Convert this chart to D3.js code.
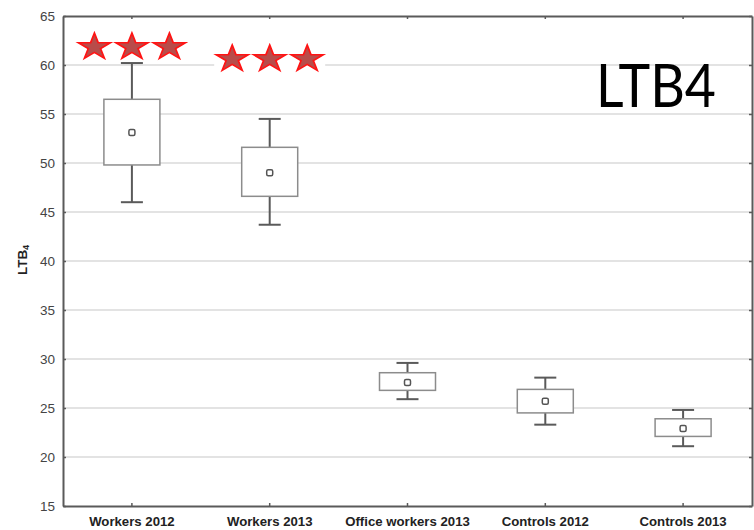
<!DOCTYPE html>
<html>
<head>
<meta charset="utf-8">
<script src="https://cdn.jsdelivr.net/npm/d3@7"></script>
<style>
  html, body { margin: 0; padding: 0; background: #fff; }
  svg { display: block; }
</style>
</head>
<body>
<svg id="chart" width="754" height="530"></svg>
<script>
// Groups and box-plot summary values (LTB4)
const categories = ["Workers 2012", "Workers 2013", "Office workers 2013", "Controls 2012", "Controls 2013"];
const whiskerLow  = [46.0, 43.7, 25.9, 23.3, 21.1];
const boxLow      = [49.8, 46.6, 26.8, 24.5, 22.1];
const means       = [53.1, 49.0, 27.6, 25.7, 22.9];
const boxHigh     = [56.5, 51.6, 28.6, 26.9, 23.9];
const whiskerHigh = [60.2, 54.5, 29.6, 28.1, 24.8];
const yTicks      = [15, 20, 25, 30, 35, 40, 45, 50, 55, 60, 65];
// Significance stars shown above each group
const starCounts  = [3, 3, 0, 0, 0];

const svg = d3.select("#chart");
const plotL = 63, plotR = 752, plotT = 16, plotB = 506;

const x = d3.scaleBand().domain(categories).range([plotL, plotR]);
const y = d3.scaleLinear().domain([15, 65]).range([plotB, plotT]);

// horizontal grid lines
svg.append("g").selectAll("line")
  .data(yTicks.filter(v => v > 15 && v < 65))
  .join("line")
  .attr("x1", plotL).attr("x2", plotR)
  .attr("y1", d => y(d)).attr("y2", d => y(d))
  .attr("stroke", "#e3e3e3").attr("stroke-width", 2);

// frame axes
const axisColor = "#5a5a5a";
const axL = svg.append("g").attr("transform", `translate(${plotL},0)`)
  .call(d3.axisLeft(y).tickValues(yTicks).tickSizeInner(-3).tickSizeOuter(0).tickPadding(8));
const axR = svg.append("g").attr("transform", `translate(${plotR},0)`)
  .call(d3.axisRight(y).tickValues(yTicks).tickSizeInner(-3).tickSizeOuter(0).tickFormat(""));
const axB = svg.append("g").attr("transform", `translate(0,${plotB})`)
  .call(d3.axisBottom(x).tickSizeInner(-3).tickSizeOuter(0).tickPadding(11));
const axT = svg.append("g").attr("transform", `translate(0,${plotT})`)
  .call(d3.axisTop(x).tickSizeInner(-3).tickSizeOuter(0).tickFormat(""));

[axL, axR, axB, axT].forEach(a => {
  a.select(".domain").attr("stroke", axisColor).attr("stroke-width", 2);
  a.selectAll(".tick line").attr("stroke", axisColor).attr("stroke-width", 1.5);
});
axL.selectAll("text")
  .attr("font-family", "Liberation Sans, Arial, sans-serif")
  .attr("font-size", 13.5).attr("fill", "#444");
axB.selectAll("text")
  .attr("font-family", "Liberation Sans, Arial, sans-serif")
  .attr("font-size", 13.2).attr("font-weight", "bold").attr("fill", "#222");

// box plots
const boxW = 56, capW = 22;
const boxes = svg.append("g").selectAll("g")
  .data(categories.map((c, i) => ({
    c, wl: whiskerLow[i], bl: boxLow[i], m: means[i], bh: boxHigh[i], wh: whiskerHigh[i]
  })))
  .join("g")
  .attr("transform", d => `translate(${x(d.c) + x.bandwidth() / 2},0)`);

boxes.append("line")
  .attr("x1", 0).attr("x2", 0)
  .attr("y1", d => y(d.wh)).attr("y2", d => y(d.bh))
  .attr("stroke", "#5a5a5a").attr("stroke-width", 2);
boxes.append("line")
  .attr("x1", 0).attr("x2", 0)
  .attr("y1", d => y(d.bl)).attr("y2", d => y(d.wl))
  .attr("stroke", "#5a5a5a").attr("stroke-width", 2);
boxes.selectAll("line.cap")
  .data(d => [d.wl, d.wh])
  .join("line").attr("class", "cap")
  .attr("x1", -capW / 2).attr("x2", capW / 2)
  .attr("y1", v => y(v)).attr("y2", v => y(v))
  .attr("stroke", "#5a5a5a").attr("stroke-width", 2);
boxes.append("rect")
  .attr("x", -boxW / 2).attr("width", boxW)
  .attr("y", d => y(d.bh)).attr("height", d => y(d.bl) - y(d.bh))
  .attr("fill", "#fff").attr("stroke", "#8c8c8c").attr("stroke-width", 1.5);
boxes.append("rect")
  .attr("x", -3).attr("width", 6)
  .attr("y", d => y(d.m) - 3).attr("height", 6)
  .attr("rx", 1.5)
  .attr("fill", "#fff").attr("stroke", "#555").attr("stroke-width", 1.5);

// significance stars with a white backing panel
const starRowY = [47, 59];
const starGap = 37.5, starR = 17, starSy = 0.82;
const starPath = d3.symbol(d3.symbolStar, starR * starR / 0.8908130915292852)();
categories.forEach((c, i) => {
  const n = starCounts[i];
  if (!n) return;
  const cx = x(c) + x.bandwidth() / 2;
  const cy = starRowY[i];
  const span = (n - 1) * starGap;
  const g = svg.append("g");
  g.append("rect")
    .attr("x", cx - span / 2 - 18).attr("width", span + 36)
    .attr("y", cy - starR * starSy - 2).attr("height", starR * starSy * 1.81 + 3)
    .attr("fill", "#fff");
  g.selectAll("path")
    .data(d3.range(n))
    .join("path")
    .attr("d", starPath)
    .attr("transform", k => `translate(${cx - span / 2 + k * starGap},${cy}) scale(1,${starSy})`)
    .attr("fill", "#b84c4a").attr("stroke", "#ff1414").attr("stroke-width", 1.8)
    .attr("stroke-linejoin", "miter");
});

// y-axis title with subscript
const yTitle = svg.append("text")
  .attr("transform", "translate(27,260) rotate(-90)")
  .attr("text-anchor", "middle")
  .attr("font-family", "Liberation Sans, Arial, sans-serif")
  .attr("font-size", 13.5).attr("font-weight", "bold").attr("fill", "#222");
yTitle.append("tspan").text("LTB");
yTitle.append("tspan").attr("font-size", 8.5).attr("dy", 2).text("4");

// panel label
svg.append("text")
  .attr("x", 596).attr("y", 107)
  .attr("textLength", 120).attr("lengthAdjust", "spacingAndGlyphs")
  .attr("font-family", "Lato, Open Sans, sans-serif")
  .attr("font-size", 60).attr("fill", "#000")
  .text("LTB4");
</script>
</body>
</html>
